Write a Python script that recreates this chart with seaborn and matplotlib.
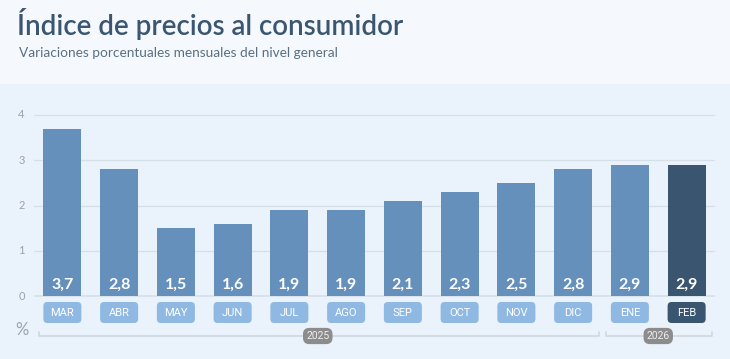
import numpy as np
import pandas as pd
import matplotlib
matplotlib.use("Agg")
import matplotlib.pyplot as plt
from matplotlib.patches import FancyBboxPatch, Rectangle
import seaborn as sns

months = ["MAR", "ABR", "MAY", "JUN", "JUL", "AGO", "SEP", "OCT", "NOV", "DIC", "ENE", "FEB"]
values = [3.7, 2.8, 1.5, 1.6, 1.9, 1.9, 2.1, 2.3, 2.5, 2.8, 2.9, 2.9]
years = ["2025", "2026"]
year_spans = [(0, 9), (10, 11)]
yticks = [0, 1, 2, 3, 4]

title = "Índice de precios al consumidor"
subtitle = "Variaciones porcentuales mensuales del nivel general"

df = pd.DataFrame({"mes": months, "valor": values})
df["grupo"] = ["actual" if m == "FEB" else "previo" for m in months]

sns.set_theme(style="white")
plt.rcParams["font.family"] = ["Lato", "DejaVu Sans"]

bar_col = "#6490bb"
dark_col = "#3a5570"
box_col = "#8fb9e2"
panel_bg = "#eaf3fb"
head_bg = "#f5f9fd"

fig = plt.figure(figsize=(7.3, 3.59), dpi=100)
fig.patch.set_facecolor(panel_bg)
fig.patches.append(Rectangle((0, 1 - 84 / 359), 1, 84 / 359, transform=fig.transFigure,
                             facecolor=head_bg, edgecolor="none", zorder=0))
fig.text(17 / 730, 1 - 24 / 359, title, fontsize=20, color="#3b5670", va="center",
         fontweight="semibold")
fig.text(19 / 730, 1 - 53 / 359, subtitle, fontsize=9.8, color="#5a6f82", va="center")

ax = fig.add_axes([34 / 730, 9 / 359, 681 / 730, 250 / 359])
ax.set_facecolor("none")
px_y = 45.25
ax.set_xlim(-0.5, 11.5)
ax.set_ylim(-54 / px_y, 196 / px_y)

sns.barplot(data=df, x="mes", y="valor", hue="grupo", order=months,
            palette={"previo": bar_col, "actual": dark_col}, width=0.67,
            saturation=1, dodge=False, legend=False, ax=ax, zorder=3, edgecolor="none")

for y in yticks:
    ax.axhline(y, color="#d5dfe8", lw=1.2 if y == 0 else 0.9, zorder=1)
    ax.text(-0.72, y, str(y), ha="center", va="center", fontsize=8, color="#9aa3ab")

aspect = (1 / px_y) / (1 / 56.82)
for i, (m, v) in enumerate(zip(months, values)):
    ax.text(i, 0.24, f"{v:.1f}".replace(".", ","), ha="center", va="center",
            fontsize=11.5, fontweight="bold", color="white", zorder=5)
    fc = dark_col if m == "FEB" else box_col
    ax.add_patch(FancyBboxPatch((i - 0.335, -27 / px_y), 0.67, 21 / px_y,
                                boxstyle="round,pad=0,rounding_size=0.07",
                                mutation_aspect=aspect, facecolor=fc, edgecolor="none",
                                clip_on=False, zorder=4))
    ax.text(i, -16.5 / px_y, m, ha="center", va="center", fontsize=8,
            family=["Roboto", "DejaVu Sans"], color="white", zorder=5)

ax.text(-0.72, -34 / px_y, "%", ha="center", va="center", fontsize=12, color="#9aa3ab")

by = -40 / px_y
for yr, (a, b) in zip(years, year_spans):
    x0, x1 = a - 0.42, b + 0.45
    ax.plot([x0, x0, x1, x1], [by + 0.08, by, by, by + 0.08], color="#d0d7de", lw=1.2,
            clip_on=False, zorder=2)
    xc = (a + b) / 2
    ax.text(xc, by, yr, ha="center", va="center", fontsize=7.5, color="#eeeeee",
            family=["Roboto", "DejaVu Sans"], zorder=4,
            bbox=dict(boxstyle="round,pad=0.3,rounding_size=0.6", fc="#8c8c8c", ec="none"))

ax.set_xticks([])
ax.set_yticks([])
ax.set_xlabel("")
ax.set_ylabel("")
sns.despine(ax=ax, left=True, bottom=True)

fig.savefig("out.png", dpi=100, facecolor=fig.get_facecolor())
